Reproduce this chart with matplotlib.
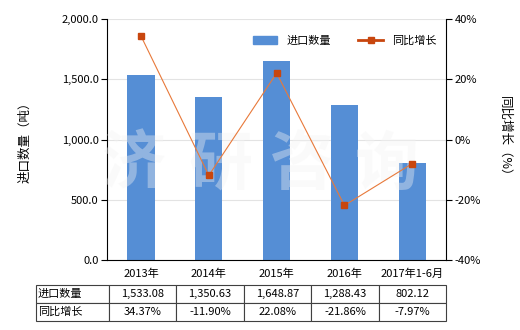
import numpy as np
import matplotlib.pyplot as plt
from matplotlib.lines import Line2D
from matplotlib.patches import Patch

plt.rcParams['font.family'] = ['Noto Sans CJK SC', 'DejaVu Sans']

categories = ['2013年', '2014年', '2015年', '2016年', '2017年1-6月']
qty = [1533.08, 1350.63, 1648.87, 1288.43, 802.12]
yoy = [34.37, -11.90, 22.08, -21.86, -7.97]
qty_labels = ['1,533.08', '1,350.63', '1,648.87', '1,288.43', '802.12']
yoy_labels = ['34.37%', '-11.90%', '22.08%', '-21.86%', '-7.97%']

bar_color = '#558ED5'
line_color = '#E8793A'
marker_color = '#C8460E'

fig = plt.figure(figsize=(5.2, 3.3), dpi=100)
ax = fig.add_axes([0.206, 0.212, 0.652, 0.730])
x = np.arange(len(categories))

ax.bar(x, qty, width=0.4, color=bar_color, zorder=2)
ax.set_ylim(0, 2000)
ax.set_xlim(-0.5, len(categories) - 0.5)
ax.set_yticks(np.arange(0, 2001, 500))
ax.set_yticklabels(['{:,.1f}'.format(v) for v in np.arange(0, 2001, 500)], fontsize=8)
ax.set_xticks(x)
ax.set_xticklabels(categories, fontsize=8)
ax.tick_params(axis='x', length=0, pad=6)
ax.tick_params(axis='y', length=4, width=0.8, pad=2)
ax.grid(axis='y', color='#e3e3e3', linewidth=0.8, zorder=0)
ax.set_axisbelow(True)
for s in ['top', 'right']:
    ax.spines[s].set_visible(False)
ax.set_ylabel('进口数量（吨）', fontsize=9, labelpad=22)

# watermark, one glyph at a time, above the bars but under the line
for ch, xc in zip('济研咨询', [134, 220, 302, 387]):
    ax.text((xc - 107) / 339, (260 - 165) / 241, ch, transform=ax.transAxes,
            fontsize=46, fontweight='bold', color='#f4f4f4', alpha=0.38,
            ha='center', va='center', zorder=3)

ax2 = ax.twinx()
ax2.plot(x, yoy, color=line_color, linewidth=0.8, marker='s', markersize=4,
         markerfacecolor=marker_color, markeredgecolor=marker_color, zorder=3)
ax2.set_ylim(-40, 40)
ax2.set_yticks(np.arange(-40, 41, 20))
ax2.set_yticklabels(['{}%'.format(v) for v in np.arange(-40, 41, 20)], fontsize=8)
ax2.tick_params(axis='y', length=4, width=0.8, pad=2)
for s in ['top', 'left', 'bottom']:
    ax2.spines[s].set_visible(False)
ax2.set_ylabel('同比增长（%）', fontsize=9, rotation=-90, labelpad=22)

handles = [Patch(color=bar_color),
           Line2D([0], [0], color=marker_color, linewidth=2, marker='s', markersize=4)]
ax2.legend(handles, ['进口数量', '同比增长'], loc='upper right', bbox_to_anchor=(1.0, 0.975),
           ncol=2, frameon=False, fontsize=8, handlelength=2.2, columnspacing=2.5)

tbl = ax.table(cellText=[['进口数量'] + qty_labels, ['同比增长'] + yoy_labels],
               colWidths=[71 / 339] + [66 / 339] * 5,
               bbox=[-0.209, -0.253, 1.209, 0.149], cellLoc='center')
tbl.auto_set_font_size(False)
tbl.set_fontsize(8)
for (r, c), cell in tbl.get_celld().items():
    cell.set_edgecolor('#404040')
    cell.set_linewidth(0.8)
    if c == 0:
        cell.set_text_props(ha='left')
        cell.PAD = 0.02

fig.savefig('out.png', dpi=100)
